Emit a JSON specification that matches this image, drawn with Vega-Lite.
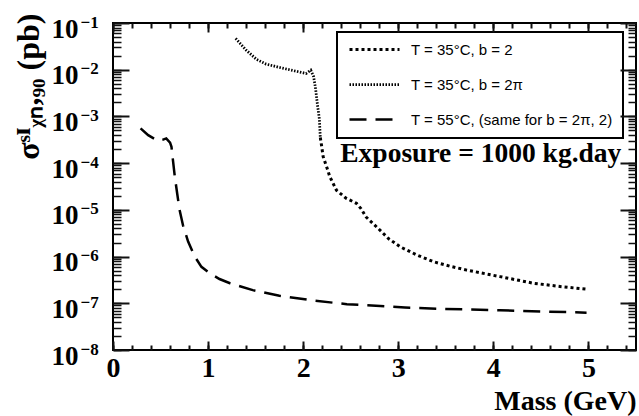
{
  "$schema": "https://vega.github.io/schema/vega-lite/v6.json",
  "width": 523,
  "height": 327,
  "autosize": "none",
  "padding": {"left": 113, "top": 23, "right": 3, "bottom": 66},
  "background": "white",
  "config": {
    "view": {"stroke": "black", "strokeWidth": 2},
    "legend": {"strokeWidth": 2},
    "axis": {"domain": false, "grid": false, "labelColor": "black", "titleColor": "black", "labelOverlap": false, "labelFlush": false, "labelBound": false}
  },
  "datasets": {
    "curves": [
      {"series": "T = 35°C, b = 2", "mass": 2.18, "sigma": 3.55e-4},
      {"series": "T = 35°C, b = 2", "mass": 2.19, "sigma": 2.63e-4},
      {"series": "T = 35°C, b = 2", "mass": 2.21, "sigma": 1.38e-4},
      {"series": "T = 35°C, b = 2", "mass": 2.25, "sigma": 7.94e-5},
      {"series": "T = 35°C, b = 2", "mass": 2.28, "sigma": 5.13e-5},
      {"series": "T = 35°C, b = 2", "mass": 2.35, "sigma": 2.63e-5},
      {"series": "T = 35°C, b = 2", "mass": 2.45, "sigma": 1.78e-5},
      {"series": "T = 35°C, b = 2", "mass": 2.56, "sigma": 1.38e-5},
      {"series": "T = 35°C, b = 2", "mass": 2.61, "sigma": 1.05e-5},
      {"series": "T = 35°C, b = 2", "mass": 2.66, "sigma": 7.08e-6},
      {"series": "T = 35°C, b = 2", "mass": 2.79, "sigma": 3.98e-6},
      {"series": "T = 35°C, b = 2", "mass": 2.9, "sigma": 2.4e-6},
      {"series": "T = 35°C, b = 2", "mass": 3.02, "sigma": 1.62e-6},
      {"series": "T = 35°C, b = 2", "mass": 3.2, "sigma": 1.07e-6},
      {"series": "T = 35°C, b = 2", "mass": 3.37, "sigma": 7.76e-7},
      {"series": "T = 35°C, b = 2", "mass": 3.55, "sigma": 6.17e-7},
      {"series": "T = 35°C, b = 2", "mass": 3.72, "sigma": 5.13e-7},
      {"series": "T = 35°C, b = 2", "mass": 4.07, "sigma": 3.72e-7},
      {"series": "T = 35°C, b = 2", "mass": 4.42, "sigma": 2.69e-7},
      {"series": "T = 35°C, b = 2", "mass": 4.7, "sigma": 2.29e-7},
      {"series": "T = 35°C, b = 2", "mass": 4.98, "sigma": 2.0e-7},
      {"series": "T = 35°C, b = 2π", "mass": 1.29, "sigma": 0.0468},
      {"series": "T = 35°C, b = 2π", "mass": 1.4, "sigma": 0.0263},
      {"series": "T = 35°C, b = 2π", "mass": 1.51, "sigma": 0.0166},
      {"series": "T = 35°C, b = 2π", "mass": 1.61, "sigma": 0.0132},
      {"series": "T = 35°C, b = 2π", "mass": 1.75, "sigma": 0.0112},
      {"series": "T = 35°C, b = 2π", "mass": 1.9, "sigma": 0.00955},
      {"series": "T = 35°C, b = 2π", "mass": 2.03, "sigma": 0.00832},
      {"series": "T = 35°C, b = 2π", "mass": 2.08, "sigma": 0.00977},
      {"series": "T = 35°C, b = 2π", "mass": 2.11, "sigma": 0.00708},
      {"series": "T = 35°C, b = 2π", "mass": 2.13, "sigma": 0.00398},
      {"series": "T = 35°C, b = 2π", "mass": 2.15, "sigma": 0.00178},
      {"series": "T = 35°C, b = 2π", "mass": 2.17, "sigma": 8.91e-4},
      {"series": "T = 35°C, b = 2π", "mass": 2.18, "sigma": 3.55e-4},
      {"series": "T = 55°C, (same for b = 2π, 2)", "mass": 0.29, "sigma": 5.56e-4},
      {"series": "T = 55°C, (same for b = 2π, 2)", "mass": 0.37, "sigma": 3.98e-4},
      {"series": "T = 55°C, (same for b = 2π, 2)", "mass": 0.47, "sigma": 3.02e-4},
      {"series": "T = 55°C, (same for b = 2π, 2)", "mass": 0.52, "sigma": 3.16e-4},
      {"series": "T = 55°C, (same for b = 2π, 2)", "mass": 0.56, "sigma": 3.39e-4},
      {"series": "T = 55°C, (same for b = 2π, 2)", "mass": 0.6, "sigma": 2.75e-4},
      {"series": "T = 55°C, (same for b = 2π, 2)", "mass": 0.615, "sigma": 2.24e-4},
      {"series": "T = 55°C, (same for b = 2π, 2)", "mass": 0.63, "sigma": 1.17e-4},
      {"series": "T = 55°C, (same for b = 2π, 2)", "mass": 0.65, "sigma": 5.13e-5},
      {"series": "T = 55°C, (same for b = 2π, 2)", "mass": 0.675, "sigma": 2.24e-5},
      {"series": "T = 55°C, (same for b = 2π, 2)", "mass": 0.7, "sigma": 1.0e-5},
      {"series": "T = 55°C, (same for b = 2π, 2)", "mass": 0.736, "sigma": 4.68e-6},
      {"series": "T = 55°C, (same for b = 2π, 2)", "mass": 0.79, "sigma": 2.09e-6},
      {"series": "T = 55°C, (same for b = 2π, 2)", "mass": 0.86, "sigma": 1.0e-6},
      {"series": "T = 55°C, (same for b = 2π, 2)", "mass": 0.93, "sigma": 6.03e-7},
      {"series": "T = 55°C, (same for b = 2π, 2)", "mass": 1.02, "sigma": 4.37e-7},
      {"series": "T = 55°C, (same for b = 2π, 2)", "mass": 1.12, "sigma": 3.31e-7},
      {"series": "T = 55°C, (same for b = 2π, 2)", "mass": 1.23, "sigma": 2.69e-7},
      {"series": "T = 55°C, (same for b = 2π, 2)", "mass": 1.47, "sigma": 1.91e-7},
      {"series": "T = 55°C, (same for b = 2π, 2)", "mass": 1.75, "sigma": 1.45e-7},
      {"series": "T = 55°C, (same for b = 2π, 2)", "mass": 2.1, "sigma": 1.15e-7},
      {"series": "T = 55°C, (same for b = 2π, 2)", "mass": 2.46, "sigma": 9.55e-8},
      {"series": "T = 55°C, (same for b = 2π, 2)", "mass": 2.81, "sigma": 8.71e-8},
      {"series": "T = 55°C, (same for b = 2π, 2)", "mass": 3.07, "sigma": 8.13e-8},
      {"series": "T = 55°C, (same for b = 2π, 2)", "mass": 3.47, "sigma": 7.59e-8},
      {"series": "T = 55°C, (same for b = 2π, 2)", "mass": 4.07, "sigma": 7.08e-8},
      {"series": "T = 55°C, (same for b = 2π, 2)", "mass": 4.59, "sigma": 6.61e-8},
      {"series": "T = 55°C, (same for b = 2π, 2)", "mass": 4.98, "sigma": 6.31e-8}
    ]
  },
  "resolve": {"axis": {"x": "independent", "y": "independent"}},
  "layer": [
    {
      "data": {"name": "curves"},
      "transform": [{"filter": "datum.series === 'T = 55°C, (same for b = 2π, 2)'"}],
      "mark": {"type": "line", "color": "black", "strokeCap": "butt", "clip": true},
      "encoding": {
        "x": {
          "field": "mass", "type": "quantitative",
          "scale": {"domain": [0, 5.5], "nice": false, "zero": false},
          "axis": {
            "orient": "bottom", "values": [0, 1, 2, 3, 4, 5], "format": "d", "zindex": 1,
            "ticks": true, "tickSize": -9, "tickColor": "#111111", "tickWidth": 2,
            "labelFont": "Liberation Serif", "labelFontWeight": "bold", "labelFontSize": 28,
            "labelBaseline": "alphabetic", "labelPadding": 35,
            "title": "Mass (GeV)", "titleFont": "Liberation Serif", "titleFontWeight": "bold", "titleFontSize": 28,
            "titleX": 523, "titleY": 59, "titleAlign": "right", "titleBaseline": "alphabetic"
          }
        },
        "y": {
          "field": "sigma", "type": "quantitative",
          "scale": {"type": "log", "domain": [1e-8, 0.1], "nice": false},
          "axis": {
            "orient": "left", "values": [1e-8, 1e-7, 1e-6, 1e-5, 1e-4, 0.001, 0.01, 0.1], "zindex": 1,
            "ticks": true, "tickSize": -16, "tickColor": "#111111", "tickWidth": 2,
            "labelExpr": "'10'",
            "labelFont": "Liberation Serif", "labelFontWeight": "bold", "labelFontSize": 27,
            "labelAlign": "right", "labelBaseline": "alphabetic", "labelOffset": 14, "labelPadding": 51,
            "title": "σˢᴵᵪₙ,₉₀ (pb)", "titleFont": "Liberation Serif", "titleFontWeight": "bold", "titleFontSize": 32,
            "titleX": -85, "titleY": -10, "titleAngle": -90, "titleAlign": "right", "titleBaseline": "middle"
          }
        },
        "strokeDash": {
          "field": "series", "type": "nominal",
          "scale": {"domain": ["T = 35°C, b = 2", "T = 35°C, b = 2π", "T = 55°C, (same for b = 2π, 2)"], "range": [[3, 3], [1.5, 1.5], [17, 9]]},
          "legend": {
            "title": null, "orient": "none", "legendX": 224, "legendY": 9,
            "symbolType": "M-1,0H9", "symbolSize": 100, "symbolStrokeColor": "black",
            "labelFont": "Liberation Sans", "labelFontSize": 15, "labelColor": "black", "labelOffset": 49, "labelLimit": 400,
            "padding": 10, "strokeColor": "black", "fillColor": "white", "rowPadding": 19
          }
        },
        "strokeWidth": {
          "field": "series", "type": "nominal",
          "scale": {"domain": ["T = 35°C, b = 2", "T = 35°C, b = 2π", "T = 55°C, (same for b = 2π, 2)"], "range": [3, 2.5, 3.5]},
          "legend": {
            "title": null, "orient": "none", "legendX": 224, "legendY": 9,
            "symbolType": "M-1,0H9", "symbolSize": 100, "symbolStrokeColor": "black",
            "labelFont": "Liberation Sans", "labelFontSize": 15, "labelColor": "black", "labelOffset": 49, "labelLimit": 400,
            "padding": 10, "strokeColor": "black", "fillColor": "white", "rowPadding": 19
          }
        }
      }
    },
    {
      "data": {"name": "curves"},
      "transform": [{"filter": "datum.series === 'T = 35°C, b = 2'"}],
      "mark": {"type": "line", "color": "black", "strokeCap": "butt", "clip": true},
      "encoding": {
        "x": {
          "field": "mass", "type": "quantitative",
          "scale": {"domain": [0, 5.5], "nice": false, "zero": false},
          "axis": {
            "orient": "bottom", "zindex": 1,
            "values": [0, 0.2, 0.4, 0.6, 0.8, 1, 1.2, 1.4, 1.6, 1.8, 2, 2.2, 2.4, 2.6, 2.8, 3, 3.2, 3.4, 3.6, 3.8, 4, 4.2, 4.4, 4.6, 4.8, 5, 5.2, 5.4],
            "ticks": true, "tickSize": -5, "tickColor": "#111111", "tickWidth": 2, "labels": false, "title": null
          }
        },
        "y": {
          "field": "sigma", "type": "quantitative",
          "scale": {"type": "log", "domain": [1e-8, 0.1], "nice": false},
          "axis": {
            "orient": "left", "zindex": 1,
            "values": [1e-8, 2e-8, 3e-8, 4e-8, 5e-8, 6e-8, 7e-8, 8e-8, 9e-8, 1e-7, 2e-7, 3e-7, 4e-7, 5e-7, 6e-7, 7e-7, 8e-7, 9e-7, 1e-6, 2e-6, 3e-6, 4e-6, 5e-6, 6e-6, 7e-6, 8e-6, 9e-6, 1e-5, 2e-5, 3e-5, 4e-5, 5e-5, 6e-5, 7e-5, 8e-5, 9e-5, 1e-4, 2e-4, 3e-4, 4e-4, 5e-4, 6e-4, 7e-4, 8e-4, 9e-4, 0.001, 0.002, 0.003, 0.004, 0.005, 0.006, 0.007, 0.008, 0.009, 0.01, 0.02, 0.03, 0.04, 0.05, 0.06, 0.07, 0.08, 0.09, 0.1],
            "ticks": true, "tickSize": -8, "tickColor": "#111111", "tickWidth": 1.5,
            "labelExpr": "abs(log(datum.value)/LN10 - round(log(datum.value)/LN10)) < 0.01 ? '−' + toString(-round(log(datum.value)/LN10)) : ''",
            "labelFont": "Liberation Serif", "labelFontWeight": "bold", "labelFontSize": 17,
            "labelAlign": "left", "labelBaseline": "alphabetic", "labelOffset": 4, "labelPadding": 41,
            "title": null
          }
        },
        "strokeDash": {"field": "series", "type": "nominal", "scale": {"domain": ["T = 35°C, b = 2", "T = 35°C, b = 2π", "T = 55°C, (same for b = 2π, 2)"], "range": [[3, 3], [1.5, 1.5], [17, 9]]}},
        "strokeWidth": {"field": "series", "type": "nominal", "scale": {"domain": ["T = 35°C, b = 2", "T = 35°C, b = 2π", "T = 55°C, (same for b = 2π, 2)"], "range": [3, 2.5, 3.5]}}
      }
    },
    {
      "data": {"name": "curves"},
      "transform": [{"filter": "datum.series === 'T = 35°C, b = 2π'"}],
      "mark": {"type": "line", "color": "black", "strokeCap": "butt", "clip": true},
      "encoding": {
        "x": {
          "field": "mass", "type": "quantitative",
          "scale": {"domain": [0, 5.5], "nice": false, "zero": false},
          "axis": {"orient": "top", "zindex": 1, "values": [0, 1, 2, 3, 4, 5], "ticks": true, "tickSize": -9, "tickColor": "#111111", "tickWidth": 2, "labels": false, "title": null}
        },
        "y": {
          "field": "sigma", "type": "quantitative",
          "scale": {"type": "log", "domain": [1e-8, 0.1], "nice": false},
          "axis": {"orient": "right", "zindex": 1, "values": [1e-8, 1e-7, 1e-6, 1e-5, 1e-4, 0.001, 0.01, 0.1], "ticks": true, "tickSize": -16, "tickColor": "#111111", "tickWidth": 2, "labels": false, "title": null}
        },
        "strokeDash": {"field": "series", "type": "nominal", "scale": {"domain": ["T = 35°C, b = 2", "T = 35°C, b = 2π", "T = 55°C, (same for b = 2π, 2)"], "range": [[3, 3], [1.5, 1.5], [17, 9]]}},
        "strokeWidth": {"field": "series", "type": "nominal", "scale": {"domain": ["T = 35°C, b = 2", "T = 35°C, b = 2π", "T = 55°C, (same for b = 2π, 2)"], "range": [3, 2.5, 3.5]}}
      }
    },
    {
      "data": {"values": [{"mass": 2.39, "sigma": 1.07e-4, "label": "Exposure = 1000 kg.day"}]},
      "mark": {"type": "text", "align": "left", "baseline": "alphabetic", "font": "Liberation Serif", "fontWeight": "bold", "fontSize": 27.5, "color": "black"},
      "encoding": {
        "x": {
          "field": "mass", "type": "quantitative",
          "scale": {"domain": [0, 5.5], "nice": false, "zero": false},
          "axis": {
            "orient": "top", "zindex": 1,
            "values": [0, 0.2, 0.4, 0.6, 0.8, 1, 1.2, 1.4, 1.6, 1.8, 2, 2.2, 2.4, 2.6, 2.8, 3, 3.2, 3.4, 3.6, 3.8, 4, 4.2, 4.4, 4.6, 4.8, 5, 5.2, 5.4],
            "ticks": true, "tickSize": -5, "tickColor": "#111111", "tickWidth": 2, "labels": false, "title": null
          }
        },
        "y": {
          "field": "sigma", "type": "quantitative",
          "scale": {"type": "log", "domain": [1e-8, 0.1], "nice": false},
          "axis": {
            "orient": "right", "zindex": 1,
            "values": [1e-8, 2e-8, 3e-8, 4e-8, 5e-8, 6e-8, 7e-8, 8e-8, 9e-8, 1e-7, 2e-7, 3e-7, 4e-7, 5e-7, 6e-7, 7e-7, 8e-7, 9e-7, 1e-6, 2e-6, 3e-6, 4e-6, 5e-6, 6e-6, 7e-6, 8e-6, 9e-6, 1e-5, 2e-5, 3e-5, 4e-5, 5e-5, 6e-5, 7e-5, 8e-5, 9e-5, 1e-4, 2e-4, 3e-4, 4e-4, 5e-4, 6e-4, 7e-4, 8e-4, 9e-4, 0.001, 0.002, 0.003, 0.004, 0.005, 0.006, 0.007, 0.008, 0.009, 0.01, 0.02, 0.03, 0.04, 0.05, 0.06, 0.07, 0.08, 0.09, 0.1],
            "ticks": true, "tickSize": -8, "tickColor": "#111111", "tickWidth": 1.5, "labels": false, "title": null
          }
        },
        "text": {"field": "label", "type": "nominal"}
      }
    }
  ]
}
